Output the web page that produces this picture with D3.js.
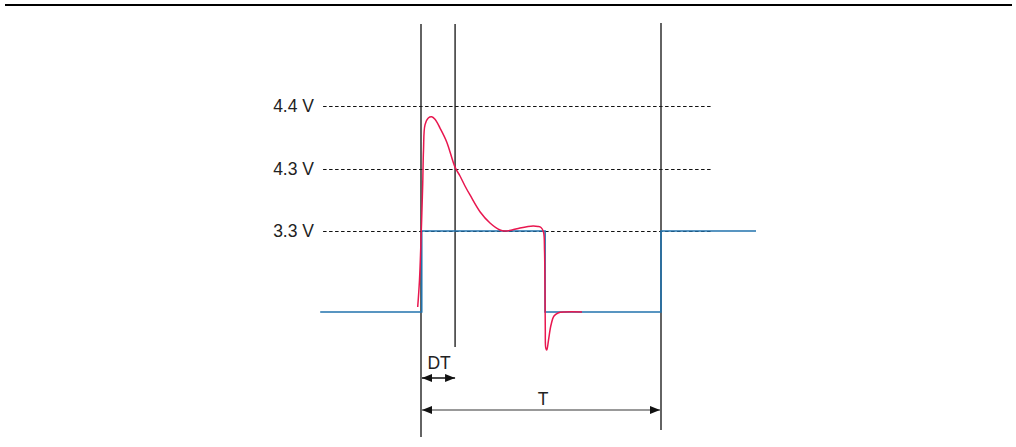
<!DOCTYPE html>
<html><head><meta charset="utf-8">
<script src="https://cdn.jsdelivr.net/npm/d3@7"></script>
<style>html,body{margin:0;padding:0;background:#fff}svg{display:block}</style>
</head><body>
<svg id="c" width="1016" height="447"></svg>
<script>
// Voltage levels (reference lines) and their labels
const levelValues = [4.4, 4.3, 3.3];
const levelLabels = ["4.4 V", "4.3 V", "3.3 V"];
// Time markers (in % of period T)
const markerTimes = [0, 14.2, 100];
const markerLabels = ["DT", "T"];
// Ideal (blue) signal: time (%T), voltage (V)
const blueT = [-42, 0.3, 0.3, 51.7, 51.7, 100, 100, 139.6];
const blueV = [0, 0, 3.3, 3.3, 0, 0, 3.3, 3.3];
// Real (red) signal with overshoot / undershoot
const redT = [-1.375, -0.625, 0.125, 0.708, 1.042, 1.667, 3.04, 4.46, 5.83, 7.92, 10.71, 14.17, 16.25, 18.33, 20.42, 24.58, 28.75, 32.92, 35, 37.92, 41.25, 46.67, 48.75, 50, 51.04, 51.46, 51.67, 51.79, 52, 52.42, 53.13, 54.17, 55.42, 57.08, 60, 67.08];
const redV = [0.204, 1.304, 3.3, 4.042, 4.33, 4.37, 4.381, 4.383, 4.379, 4.365, 4.343, 4.303, 4.187, 4.026, 3.881, 3.611, 3.429, 3.316, 3.3, 3.316, 3.348, 3.381, 3.373, 3.356, 3.259, 2.526, 0.896, -0.733, -1.467, -1.548, -1.141, -0.53, -0.163, -0.041, 0, 0];

const svg = d3.select("#c");
const x = d3.scaleLinear().domain([0, 100]).range([421, 661]);
const y = d3.scaleLinear().domain([0, 3.3, 4.3, 4.4]).range([312, 231, 169, 106]);
const font = "'Liberation Sans', Arial, Helvetica, sans-serif";

// top rule
svg.append("line").attr("x1", 5).attr("x2", 1012).attr("y1", 5).attr("y2", 5)
  .attr("stroke", "#000").attr("stroke-width", 2);

// dashed reference lines
levelValues.forEach((v, i) => {
  svg.append("line").attr("x1", x(-40.8)).attr("x2", x(121.7))
    .attr("y1", y(v) + 0.5).attr("y2", y(v) + 0.5)
    .attr("stroke", "#111").attr("stroke-width", 1).attr("stroke-dasharray", "3.5,2.5");
  svg.append("text").attr("x", 314).attr("y", y(v)).attr("dy", "0.36em")
    .attr("text-anchor", "end").attr("font-family", font).attr("font-size", 17.5)
    .attr("fill", "#222").text(levelLabels[i]);
});

// vertical marker lines
const vEnds = [437, 347, 430];
const vStarts = [24, 24, 23];
markerTimes.forEach((t, i) => {
  svg.append("line").attr("x1", x(t)).attr("x2", x(t))
    .attr("y1", vStarts[i]).attr("y2", vEnds[i])
    .attr("stroke", "#222").attr("stroke-width", 1.4);
});

// signals
const line = d3.line().x(d => x(d[0])).y(d => y(d[1]));
svg.append("path").datum(blueT.map((t, i) => [t, blueV[i]]))
  .attr("d", line).attr("fill", "none").attr("stroke", "#2273ad").attr("stroke-width", 1.6);
svg.append("path").datum(redT.map((t, i) => [t, redV[i]]))
  .attr("d", line.curve(d3.curveCatmullRom.alpha(0.5)))
  .attr("fill", "none").attr("stroke", "#e8174f").attr("stroke-width", 1.5);

// arrows
const defs = svg.append("defs");
defs.append("marker").attr("id", "blk").attr("viewBox", "0 0 10 8").attr("refX", 10).attr("refY", 4)
  .attr("markerWidth", 10).attr("markerHeight", 8).attr("markerUnits", "userSpaceOnUse")
  .attr("orient", "auto-start-reverse")
  .append("path").attr("d", "M0,0L10,4L0,8Z").attr("fill", "#111");
svg.append("line").attr("x1", x(markerTimes[0]) + 1).attr("x2", x(markerTimes[1]))
  .attr("y1", 378).attr("y2", 378).attr("stroke", "#111").attr("stroke-width", 1.5)
  .attr("marker-start", "url(#blk)").attr("marker-end", "url(#blk)");
svg.append("line").attr("x1", x(markerTimes[0]) + 1).attr("x2", x(markerTimes[2]) - 1)
  .attr("y1", 410).attr("y2", 410).attr("stroke", "#777").attr("stroke-width", 1.6)
  .attr("marker-start", "url(#blk)").attr("marker-end", "url(#blk)");

svg.append("text").attr("x", (x(markerTimes[0]) + x(markerTimes[1])) / 2 + 1).attr("y", 369)
  .attr("text-anchor", "middle").attr("font-family", font).attr("font-size", 17.5)
  .attr("fill", "#222").text(markerLabels[0]);
svg.append("text").attr("x", (x(markerTimes[0]) + x(markerTimes[2])) / 2 + 2).attr("y", 405)
  .attr("text-anchor", "middle").attr("font-family", font).attr("font-size", 17.5)
  .attr("fill", "#222").text(markerLabels[1]);
</script>
</body></html>
